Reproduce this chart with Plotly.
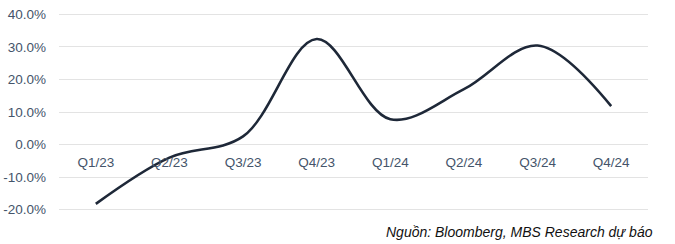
import plotly.graph_objects as go

quarters = ["Q1/23", "Q2/23", "Q3/23", "Q4/23", "Q1/24", "Q2/24", "Q3/24", "Q4/24"]
growth = [-18.2, -4.0, 2.5, 32.4, 7.8, 17.0, 30.4, 11.8]
y_ticks = [-20, -10, 0, 10, 20, 30, 40]
y_tick_text = ["-20.0%", "-10.0%", "0.0%", "10.0%", "20.0%", "30.0%", "40.0%"]
source_text = "Nguồn: Bloomberg, MBS Research dự báo"

ymin, ymax = -21, 41

fig = go.Figure()
fig.add_trace(go.Scatter(
    x=quarters, y=growth, mode="lines",
    line=dict(color="#1e2838", width=2.6, shape="spline", smoothing=1.0),
    hoverinfo="skip", showlegend=False,
))

fig.update_layout(
    width=675, height=244,
    margin=dict(l=59, r=27, t=11, b=31),
    paper_bgcolor="white", plot_bgcolor="white",
    font=dict(family="Liberation Sans, Arial, sans-serif", size=13.5, color="#44546a"),
    xaxis=dict(
        type="category", range=[-0.5, 7.5],
        anchor="free", position=(0 - ymin) / (ymax - ymin),
        showgrid=False, showline=False, zeroline=False,
        ticks="", ticklabelstandoff=8, automargin=False,
        tickfont=dict(size=13.5, color="#44546a"),
    ),
    yaxis=dict(
        range=[ymin, ymax], tickvals=y_ticks, ticktext=y_tick_text,
        showgrid=True, gridcolor="#e3e3e3", gridwidth=1,
        zeroline=False, showline=False, ticks="",
        ticklabelstandoff=12, automargin=False,
        tickfont=dict(size=13.5, color="#44546a"),
    ),
    annotations=[dict(
        text="<i>" + source_text + "</i>", xref="paper", yref="paper",
        x=1.012, y=-0.045, xanchor="right", yanchor="top", showarrow=False,
        font=dict(family="Liberation Sans, Arial, sans-serif", size=14, color="#111111"),
    )],
)

fig.write_html("out.html")
